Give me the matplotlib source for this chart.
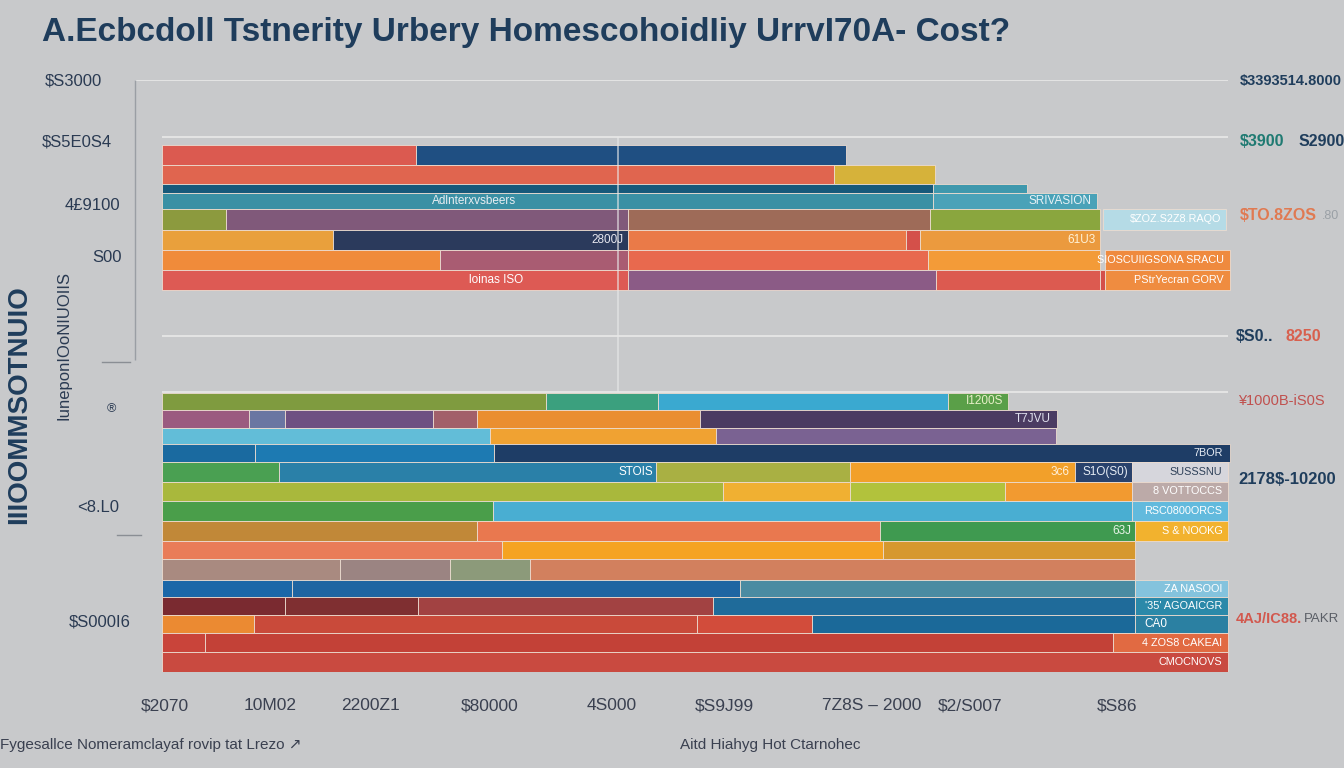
import numpy as np
import matplotlib
matplotlib.use('Agg')
import matplotlib.pyplot as plt
from matplotlib.lines import Line2D

plt.rcParams['font.family'] = ['Liberation Sans', 'DejaVu Sans']

W, H = 1344, 768
BG = '#c8c9cb'
NAVY = '#1f3d5c'

# ---- data: segment end values (cost units) and colours per row ----
top_ends = [
    [23.8, 64.0],
    [62.9, 72.4],
    [72.2, 81.0],
    [72.2, 87.5],
    [6.0, 43.6, 71.9, 87.8, 88.1, 99.6],
    [16.0, 43.6, 69.7, 71.0, 87.8],
    [26.0, 43.6, 71.7, 87.8, 88.3, 100.0],
    [43.6, 72.5, 87.8, 88.3, 100.0],
]
top_colors = [
    ['#db5a50', '#1f4f82'],
    ['#e0654f', '#d6b23a'],
    ['#17597a', '#3f98ad'],
    ['#3a90a4', '#4aa2b8'],
    ['#8c9a3e', '#80597a', '#9e6b58', '#8aa63e', 'none', '#b5dbe6'],
    ['#e9a03c', '#2b3a5c', '#ea7a48', '#d4504a', '#eb9a3e'],
    ['#f08b3a', '#a95c72', '#e8694e', '#f39b38', 'none', '#ef8a3e'],
    ['#dd5a54', '#8b5b86', '#dc5a50', '#d4504a', '#ef8c40'],
]
top_heights = [20, 19, 9, 16, 21, 20, 20, 20]

bottom_ends = [
    [36.0, 46.4, 73.6, 79.2],
    [8.1, 11.5, 25.4, 29.5, 50.4, 83.8],
    [30.7, 51.9, 83.7],
    [8.7, 31.1, 100.0],
    [11.0, 46.3, 64.4, 85.5, 90.8, 99.8],
    [52.5, 64.4, 78.9, 90.8, 99.8],
    [31.0, 90.8, 99.8],
    [29.5, 67.2, 91.1, 99.8],
    [31.8, 67.5, 91.1],
    [16.7, 27.0, 34.5, 91.1],
    [12.2, 54.1, 91.1, 99.8],
    [11.5, 24.0, 51.6, 91.1, 99.8],
    [8.6, 50.1, 60.9, 91.1, 99.8],
    [4.0, 89.0, 99.8],
    [99.8],
]
bottom_colors = [
    ['#7f9b3f', '#3ba07e', '#3aa9d0', '#5a9f48'],
    ['#9b5a80', '#6a76a2', '#6e5082', '#a2606a', '#ea8e30', '#4b3b62'],
    ['#62bdd8', '#f0a232', '#7a6292'],
    ['#1a6aa0', '#1d7ab2', '#1e3d66'],
    ['#4aa052', '#2a80a8', '#a9b043', '#f2a02a', '#29426c', '#d6d6dc'],
    ['#a9b83c', '#f0b032', '#b2c23c', '#f29a30', '#bcaaa8'],
    ['#4a9e4a', '#49aed2', '#62badd'],
    ['#c18838', '#e9784f', '#3f9a50', '#f2b22e'],
    ['#e97c58', '#f5a322', '#d6982e'],
    ['#a98a80', '#9b8482', '#8c9a7a', '#d2805e'],
    ['#1b67a8', '#1f65a2', '#4a8ba2', '#84c3dd'],
    ['#7a2a30', '#7f2f31', '#a24242', '#1f6b9a', '#2b89a9'],
    ['#eb8a32', '#c94a3a', '#d24c3b', '#1b6999', '#2b80a2'],
    ['#c9443a', '#c34137', '#e16a42'],
    ['#c94a40'],
]
bottom_heights = [17, 18, 16, 18, 20, 19, 20, 20, 18, 21, 17, 18, 18, 19, 20]

# labels written on the bars: (row, value, text, align, colour)
bar_labels = [
    (3, 29.2, 'Adlnterxvsbeers', 'center', '#e8eef2'),
    (3, 87.0, 'SRIVASION', 'right', '#e8f2f6'),
    (4, 99.2, '$ZOZ.S2Z8.RAQO', 'right', '#ffffff'),
    (5, 43.2, '2800J', 'right', '#e6e6ee'),
    (5, 87.4, '61U3', 'right', '#fff3d8'),
    (6, 99.4, 'SIOSCUIIGSONA SRACU', 'right', '#ffffff'),
    (7, 31.3, 'loinas ISO', 'center', '#ffffff'),
    (7, 99.4, 'PStrYecran GORV', 'right', '#ffffff'),
    (8, 78.8, 'I1200S', 'right', '#e8f0c8'),
    (9, 83.2, 'T7JVU', 'right', '#e0e0ee'),
    (11, 99.3, '7BOR', 'right', '#e6ecf4'),
    (12, 46.0, 'STOIS', 'right', '#ffffff'),
    (12, 85.0, '3c6', 'right', '#fff0d8'),
    (12, 90.5, 'S1O(S0)', 'right', '#e6ecf4'),
    (12, 99.3, 'SUSSSNU', 'right', '#2e4058'),
    (13, 99.3, '8 VOTTOCCS', 'right', '#ffffff'),
    (14, 99.3, 'RSC0800ORCS', 'right', '#ffffff'),
    (15, 90.8, '63J', 'right', '#e8f4e8'),
    (15, 99.3, 'S & NOOKG', 'right', '#ffffff'),
    (18, 99.3, 'ZA NASOOI', 'right', '#ffffff'),
    (19, 99.3, "'35' AGOAICGR", 'right', '#ffffff'),
    (20, 92.0, 'CA0', 'left', '#ffffff'),
    (21, 99.3, '4 ZOS8 CAKEAI', 'right', '#ffffff'),
    (22, 99.3, 'CMOCNOVS', 'right', '#ffffff'),
]

x_tick_labels = ['$2070', '10M02', '2200Z1', '$80000', '4S000', '$S9J99', '7Z8S – 2000', '$2/S007', '$S86']
x_tick_px = [165, 270, 370, 490, 612, 724, 872, 970, 1117]
left_tick_labels = ['$S3000', '$S5E0S4', '4£9100', 'S00', '®', '<8.L0', '$S000I6']
left_tick_py = [81, 142, 206, 258, 409, 507, 622]
left_tick_px = [102, 112, 120, 122, 116, 119, 131]

title = 'A.Ecbcdoll Tstnerity Urbery HomescohoidIiy UrrvI70A- Cost?'

# ---- figure ----
fig = plt.figure(figsize=(W / 100, H / 100), dpi=100)
fig.patch.set_facecolor(BG)

x0_px, x1_px, y0_px, y1_px = 135, 1240, 80, 672
unit = 10.68  # pixels per cost unit
ax = fig.add_axes([x0_px / W, 1 - y1_px / H, (x1_px - x0_px) / W, (y1_px - y0_px) / H])
ax.set_xlim(-(162 - x0_px) / unit, (x1_px - 162) / unit)
ax.set_ylim(y1_px - y0_px, 0)
ax.axis('off')

# grid lines
grid_c = '#e4e4e4'
ax.hlines(0, ax.get_xlim()[0], 99.8, color=grid_c, lw=1.4)
for yv in [57, 256, 312]:
    ax.hlines(yv, 0, 99.8, color=grid_c, lw=1.4)
ax.vlines(ax.get_xlim()[0], 0, 280, color='#9a9ea4', lw=1.0, clip_on=False)


def draw_rows(ends, colors, heights, start):
    bottoms = start + np.concatenate([[0], np.cumsum(heights)[:-1]])
    centers = []
    for e, c, b, h in zip(ends, colors, bottoms, heights):
        e = np.array(e)
        lefts = np.concatenate([[0], e[:-1]])
        ax.barh(b + h / 2, e - lefts, left=lefts, height=h, color=c,
                edgecolor=['#ecdcd0' if cc != 'none' else 'none' for cc in c],
                linewidth=0.6, zorder=2)
        centers.append(b + h / 2)
    return centers


row_centers = draw_rows(top_ends, top_colors, top_heights, 65)
row_centers += draw_rows(bottom_ends, bottom_colors, bottom_heights, 313)

ax.vlines(42.7, 57, 312, color='#e8e8e8', lw=1.2, alpha=0.7, zorder=3)

for r, xv, txt, ha, col in bar_labels:
    size = 7.8 if xv > 98 else 8.5
    ax.text(xv, row_centers[r], txt, ha=ha, va='center', fontsize=size, color=col, zorder=4)


def fx(px):
    return px / W


def fy(py):
    return 1 - py / H


# small decorative ticks on the left
for (xa, xb, yy) in [(102, 130, 362), (117, 141, 535)]:
    fig.add_artist(Line2D([fx(xa), fx(xb)], [fy(yy), fy(yy)], color='#8a8e94', lw=1.0))

# title
fig.text(fx(42), fy(33), title, fontsize=24, fontweight='bold', color=NAVY, va='center', ha='left')

# left tick labels
for t, py, px in zip(left_tick_labels, left_tick_py, left_tick_px):
    fig.text(fx(px), fy(py), t, fontsize=12 if t != '®' else 9, color='#2a3a52',
             ha='right', va='center')

# y-axis labels
fig.text(fx(19), fy(405), 'IIIOOMMSOTNUIO', rotation=90, fontsize=20, fontweight='bold',
         color=NAVY, ha='center', va='center')
fig.text(fx(64), fy(345), 'IuneponIOoNIUOIIS', rotation=90, fontsize=12,
         color='#2a3a52', ha='center', va='center')

# bottom tick labels and axis labels
for t, px in zip(x_tick_labels, x_tick_px):
    fig.text(fx(px), fy(706), t, fontsize=12.5, color='#3a4050', ha='center', va='center')
fig.text(fx(0), fy(745), 'Fygesallce Nomeramclayaf rovip tat Lrezo \u2197', fontsize=11,
         color='#3a4050', ha='left', va='center')
fig.text(fx(770), fy(745), 'Aitd Hiahyg Hot Ctarnohec', fontsize=11, color='#3a4050',
         ha='center', va='center')

# right side annotations
fs = 10.5
fig.text(fx(1240), fy(81), '$3393514.8000', fontsize=fs, fontweight='bold', color=NAVY, va='center')
fig.text(fx(1240), fy(142), '$3900', fontsize=fs + 1, fontweight='bold', color='#1f7a72', va='center')
fig.text(fx(1299), fy(142), 'S2900', fontsize=fs + 1, fontweight='bold', color=NAVY, va='center')
fig.text(fx(1240), fy(216), '$TO.8ZOS', fontsize=fs + 1, fontweight='bold', color='#e07a52', va='center')
fig.text(fx(1322), fy(216), '.80', fontsize=9, color='#9aa0a6', va='center')
fig.text(fx(1236), fy(337), '$S0..', fontsize=fs + 1, fontweight='bold', color=NAVY, va='center')
fig.text(fx(1286), fy(337), '8250', fontsize=fs + 1, fontweight='bold', color='#d8604e', va='center')
fig.text(fx(1238), fy(401), '¥1000B-iS0S', fontsize=fs, color='#c0504e', va='center')
fig.text(fx(1238), fy(480), '2178$-10200', fontsize=fs + 1.5, fontweight='bold', color=NAVY, va='center')
fig.text(fx(1236), fy(619), '4AJ/IC88.', fontsize=fs, fontweight='bold', color='#d2584e', va='center')
fig.text(fx(1304), fy(619), 'PAKR', fontsize=9.5, color='#5a5e66', va='center')

fig.savefig('out.png', dpi=100, facecolor=BG)
plt.close(fig)
